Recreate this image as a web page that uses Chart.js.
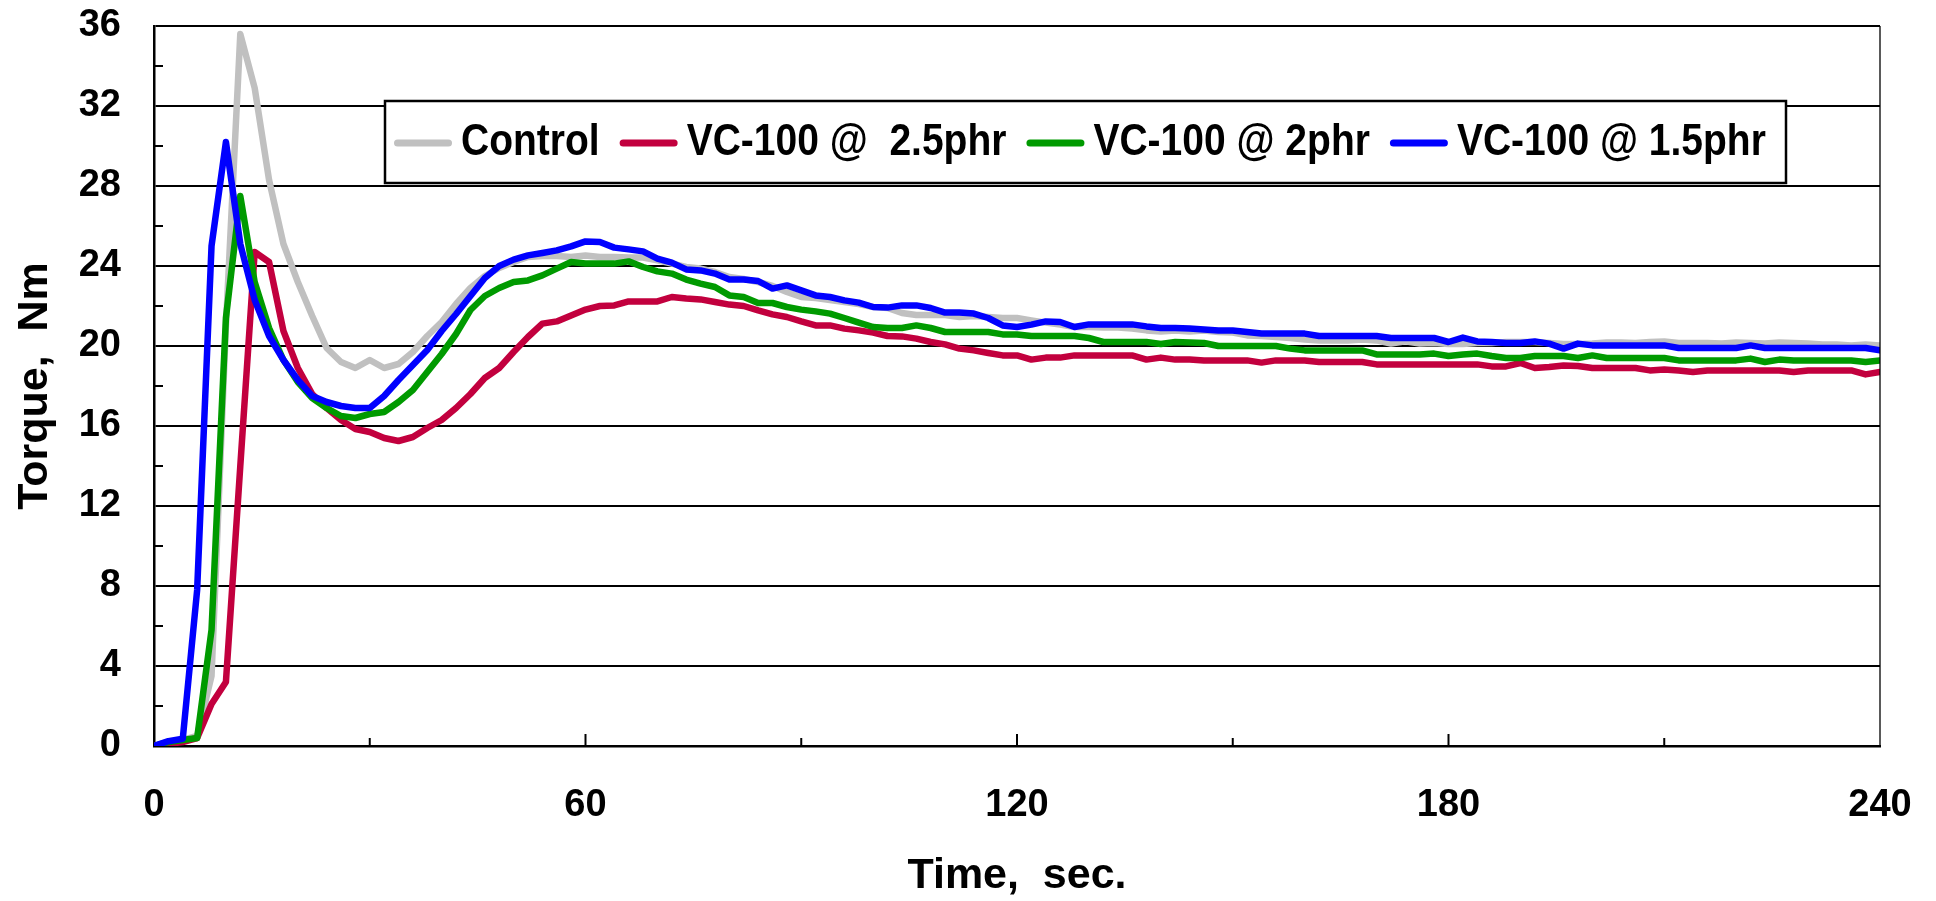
<!DOCTYPE html>
<html><head><meta charset="utf-8">
<script src="https://cdn.jsdelivr.net/npm/chart.js@4"></script>
<style>html,body{margin:0;padding:0;background:#fff;overflow:hidden}</style>
</head><body>
<canvas id="c" width="1936" height="901"></canvas>
<script>
const timeSec = [0,2,4,6,8,10,12,14,16,18,20,22,24,26,28,30,32,34,36,38,40,42,44,46,48,50,52,54,56,58,60,62,64,66,68,70,72,74,76,78,80,82,84,86,88,90,92,94,96,98,100,102,104,106,108,110,112,114,116,118,120,122,124,126,128,130,132,134,136,138,140,142,144,146,148,150,152,154,156,158,160,162,164,166,168,170,172,174,176,178,180,182,184,186,188,190,192,194,196,198,200,202,204,206,208,210,212,214,216,218,220,222,224,226,228,230,232,234,236,238,240];

const control = [0,0.1,0.3,0.5,3.5,21,35.6,32.9,28.3,25.1,
23.2,21.5,19.9,19.2,18.9,19.3,18.9,19.1,19.7,20.5,
21.2,22.1,22.9,23.5,23.9,24.2,24.45,24.5,24.5,24.45,
24.53,24.45,24.45,24.42,24.42,24.28,24.12,23.95,23.87,23.7,
23.45,23.35,23.2,23.0,22.7,22.45,22.4,22.3,22.2,22.1,
21.95,21.9,21.65,21.55,21.55,21.55,21.45,21.5,21.45,21.4,
21.4,21.28,21.17,21.07,20.95,20.95,20.92,20.92,20.87,20.78,
20.73,20.78,20.73,20.77,20.7,20.67,20.53,20.5,20.45,20.4,
20.33,20.28,20.28,20.28,20.33,20.28,20.12,20.23,20.12,20.15,
20.1,20.1,20.15,20.15,20.2,20.2,20.2,20.15,20.1,20.1,
20.12,20.18,20.18,20.15,20.2,20.23,20.15,20.15,20.15,20.12,
20.17,20.15,20.12,20.17,20.15,20.12,20.08,20.08,20.03,20.08,
20.03];

const vc25 = [0,0.1,0.2,0.4,2.1,3.2,14.0,24.7,24.2,20.75,
18.9,17.6,16.9,16.3,15.85,15.7,15.4,15.25,15.45,15.9,
16.3,16.9,17.6,18.4,18.9,19.7,20.45,21.12,21.23,21.53,
21.82,22.0,22.03,22.23,22.23,22.23,22.45,22.37,22.33,22.2,
22.07,22.0,21.78,21.58,21.45,21.23,21.03,21.03,20.87,20.78,
20.67,20.5,20.48,20.37,20.2,20.08,19.87,19.78,19.65,19.53,
19.53,19.32,19.42,19.42,19.53,19.53,19.53,19.53,19.53,19.32,
19.42,19.32,19.32,19.28,19.28,19.28,19.28,19.17,19.28,19.28,
19.28,19.2,19.2,19.2,19.2,19.08,19.08,19.08,19.08,19.08,
19.08,19.08,19.08,18.98,18.98,19.15,18.9,18.95,19.03,19.0,
18.9,18.9,18.9,18.9,18.78,18.83,18.78,18.7,18.78,18.78,
18.78,18.78,18.78,18.78,18.7,18.78,18.78,18.78,18.78,18.58,
18.7];

const vc20 = [0,0.2,0.3,0.4,5.8,21.4,27.5,23.2,20.9,19.3,
18.2,17.4,16.9,16.5,16.4,16.6,16.7,17.2,17.8,18.7,
19.6,20.6,21.8,22.5,22.9,23.2,23.28,23.53,23.87,24.2,
24.12,24.12,24.12,24.23,23.95,23.73,23.62,23.32,23.12,22.95,
22.53,22.45,22.15,22.15,21.95,21.82,21.73,21.62,21.4,21.17,
20.95,20.9,20.9,21.03,20.9,20.7,20.7,20.7,20.7,20.58,
20.58,20.5,20.5,20.5,20.5,20.4,20.2,20.2,20.2,20.2,
20.1,20.2,20.17,20.15,20.0,20.0,20.0,20.0,20.0,19.87,
19.78,19.78,19.78,19.78,19.78,19.58,19.58,19.58,19.58,19.62,
19.5,19.58,19.62,19.5,19.4,19.4,19.5,19.5,19.5,19.4,
19.53,19.4,19.4,19.4,19.4,19.4,19.28,19.28,19.28,19.28,
19.28,19.37,19.2,19.32,19.28,19.28,19.28,19.28,19.28,19.2,
19.28];

const vc15 = [0,0.24,0.36,7.8,25.0,30.2,25.1,22.3,20.5,19.3,
18.3,17.5,17.2,17.0,16.9,16.9,17.5,18.3,19.05,19.8,
20.75,21.6,22.5,23.4,24.0,24.32,24.53,24.65,24.78,24.98,
25.23,25.2,24.92,24.83,24.73,24.37,24.17,23.83,23.78,23.62,
23.33,23.33,23.25,22.87,23.03,22.78,22.53,22.45,22.28,22.17,
21.95,21.92,22.03,22.03,21.9,21.67,21.67,21.62,21.4,21.03,
20.95,21.07,21.23,21.2,20.95,21.08,21.08,21.08,21.08,20.98,
20.9,20.9,20.87,20.83,20.78,20.78,20.7,20.62,20.62,20.62,
20.62,20.5,20.5,20.5,20.5,20.5,20.4,20.4,20.4,20.4,
20.2,20.42,20.23,20.2,20.15,20.15,20.23,20.12,19.87,20.12,
20.03,20.03,20.03,20.03,20.03,20.03,19.9,19.9,19.9,19.9,
19.9,20.03,19.9,19.9,19.9,19.9,19.9,19.9,19.9,19.9,
19.78];

const seriesNames = ['Control', 'VC-100 @  2.5phr', 'VC-100 @ 2phr', 'VC-100 @ 1.5phr'];
const seriesColors = ['#C0C0C0', '#C2003E', '#009A00', '#0000FF'];
const yMinorTickValues = [2,6,10,14,18,22,26,30,34];
const xMinorTickValues = [30,90,150,210];
const xMajorTickValues = [60,120,180];

Chart.defaults.font.family = '"Liberation Sans", Arial, Helvetica, sans-serif';
Chart.defaults.font.weight = 'bold';
Chart.defaults.color = '#000';

function pts(arr){ return arr.map((v,i)=>({x:timeSec[i], y:v})); }

const allSeries = [control, vc25, vc20, vc15];
const datasets = allSeries.map((arr,i)=>({
  label: seriesNames[i],
  data: pts(arr),
  borderColor: seriesColors[i],
  backgroundColor: seriesColors[i],
  borderWidth: 6.5,
  pointRadius: 0,
  tension: 0,
  borderJoinStyle: 'round',
  borderCapStyle: 'round',
  order: 4 - i
}));

const framePlugin = {
  id: 'frame',
  afterDraw(chart){
    const ctx = chart.ctx;
    const {left, right, top, bottom} = chart.chartArea;
    const xs = chart.scales.x, ys = chart.scales.y;
    ctx.save();
    ctx.strokeStyle = '#000';
    ctx.lineCap = 'butt';
    function line(x1,y1,x2,y2){ ctx.beginPath(); ctx.moveTo(x1,y1); ctx.lineTo(x2,y2); ctx.stroke(); }
    ctx.lineWidth = 1.3;
    line(right, top, right, bottom);
    ctx.lineWidth = 2;
    yMinorTickValues.forEach(v=>{ const py = ys.getPixelForValue(v); line(left, py, left+9, py); });
    xMinorTickValues.forEach(v=>{ const px = xs.getPixelForValue(v); line(px, bottom, px, bottom-8); });
    xMajorTickValues.forEach(v=>{ const px = xs.getPixelForValue(v); line(px, bottom, px, bottom-12); });

    // legend
    const bx = 385, by = 101, bw = 1401, bh = 82;
    ctx.fillStyle = '#fff';
    ctx.fillRect(bx, by, bw, bh);
    ctx.lineWidth = 2.5;
    ctx.strokeRect(bx, by, bw, bh);
    const cy = by + bh/2 + 1;
    ctx.font = 'bold 39px "Liberation Sans", Arial, sans-serif';
    ctx.textBaseline = 'middle';
    ctx.textAlign = 'left';
    let cx = bx + 9;
    chart.data.datasets.forEach(ds=>{
      ctx.strokeStyle = ds.borderColor;
      ctx.lineWidth = 7;
      ctx.lineCap = 'round';
      line(cx+3.5, cy, cx+54.5, cy);
      const tx = cx + 67;
      ctx.fillStyle = '#000';
      ctx.save();
      ctx.translate(tx, cy);
      ctx.scale(1, 1.12);
      ctx.fillText(ds.label, 0, 0);
      ctx.restore();
      cx = tx + ctx.measureText(ds.label).width + 20;
    });
    ctx.restore();
  }
};

new Chart(document.getElementById('c'), {
  type: 'line',
  data: { datasets },
  options: {
    responsive: false,
    animation: false,
    devicePixelRatio: 1,
    layout: { padding: { left: 0, right: 56, top: 26, bottom: 0 } },
    plugins: { legend: { display: false }, tooltip: { enabled: false } },
    scales: {
      x: {
        type: 'linear', min: 0, max: 240,
        ticks: { stepSize: 60, padding: 37, font: { size: 38, weight: 'bold' }, color: '#000', maxRotation: 0 },
        grid: { display: false, drawTicks: false },
        border: { display: true, color: '#000', width: 2.5 },
        title: { display: true, text: 'Time,  sec.', color: '#000', font: { size: 43, weight: 'bold', lineHeight: 1.0 }, padding: { top: 0, bottom: 3 } },
        afterFit(s){ s.height = 155; s.paddingLeft = 0; s.paddingRight = 0; }
      },
      y: {
        min: 0, max: 36,
        ticks: { stepSize: 4, padding: 33, font: { size: 38, weight: 'bold' }, color: '#000' },
        grid: { color: '#000', lineWidth: 2, drawTicks: false },
        border: { display: true, color: '#000', width: 2.5 },
        title: { display: true, text: 'Torque,  Nm', color: '#000', font: { size: 43, weight: 'bold', lineHeight: 1.0 }, padding: { top: 14, bottom: 0 } },
        afterFit(s){ s.width = 154; s.paddingTop = 0; s.paddingBottom = 0; }
      }
    }
  },
  plugins: [framePlugin]
});
</script>
</body></html>
